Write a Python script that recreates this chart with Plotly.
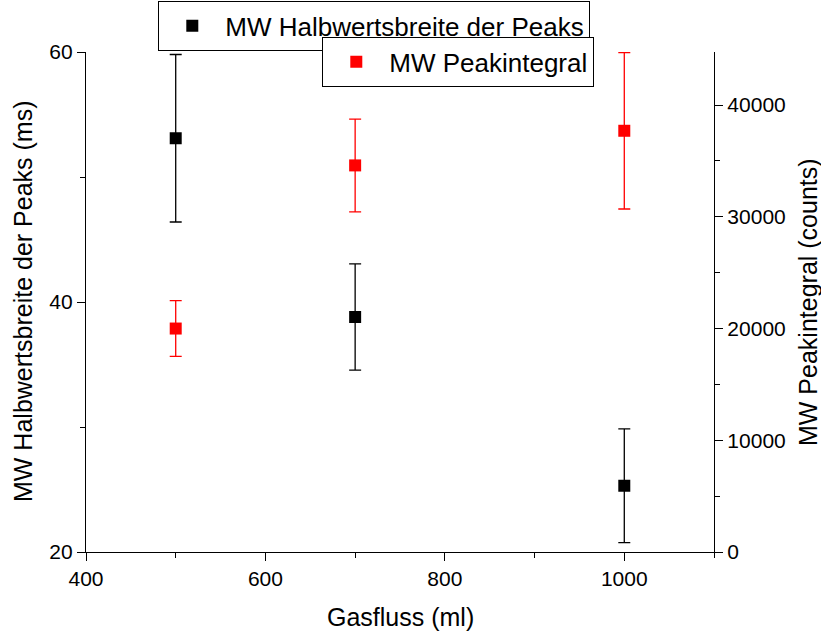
import plotly.graph_objects as go

gasfluss = [500, 700, 1000]
halbwertsbreite = [53.1, 38.8, 25.3]
halbwertsbreite_err = [6.7, 4.25, 4.55]
peakintegral = [20000, 34600, 37700]
peakintegral_err = [2500, 4150, 7000]

FONT = "Liberation Sans, Arial, sans-serif"

fig = go.Figure()
fig.add_trace(go.Scatter(
    x=gasfluss, y=halbwertsbreite, mode="markers",
    name="MW Halbwertsbreite der Peaks",
    marker=dict(symbol="square", size=12, color="black"),
    error_y=dict(type="data", array=halbwertsbreite_err, color="black", thickness=1.3, width=6),
    legend="legend", yaxis="y"))
fig.add_trace(go.Scatter(
    x=gasfluss, y=peakintegral, mode="markers",
    name="MW Peakintegral",
    marker=dict(symbol="square", size=12, color="#ff0000"),
    error_y=dict(type="data", array=peakintegral_err, color="#ff0000", thickness=1.3, width=6),
    legend="legend2", yaxis="y2"))

minor_common = dict(ticks="outside", ticklen=5, tickcolor="black", tickwidth=1.3)
axis_common = dict(showline=True, linecolor="black", linewidth=1.3, ticks="outside",
                   ticklen=8, tickwidth=1.3, tickcolor="black", showgrid=False, zeroline=False,
                   automargin=False, tickformat="d",
                   tickfont=dict(family=FONT, size=21, color="black"))

title_font = dict(family=FONT, size=25, color="black")

L, R, T, B = 86, 107, 52, 80
W, H = 821, 632
PW, PH = W - L - R, H - T - B

def px_x(p):
    return (p - L) / PW

def px_y(p):
    return (H - B - p) / PH

fig.update_layout(
    width=W, height=H,
    margin=dict(l=L, r=R, t=T, b=B, autoexpand=False),
    paper_bgcolor="white", plot_bgcolor="white",
    font=dict(family=FONT, color="black"),
    showlegend=True,
    xaxis=dict(range=[400, 1100], tickvals=[400, 600, 800, 1000],
               minor=dict(tickvals=[500, 700, 900, 1100], **minor_common),
               **axis_common),
    yaxis=dict(range=[20, 60], tickvals=[20, 40, 60],
               minor=dict(tickvals=[30, 50], **minor_common),
               **axis_common),
    yaxis2=dict(range=[0, 44750], overlaying="y", side="right",
                tickvals=[0, 10000, 20000, 30000, 40000],
                minor=dict(tickvals=[5000, 15000, 25000, 35000], **minor_common),
                **axis_common),
    legend=dict(x=px_x(158), y=px_y(1), xanchor="left", yanchor="top",
                bordercolor="black", borderwidth=1.3, bgcolor="white",
                font=dict(size=26, family=FONT), itemsizing="constant", itemwidth=56),
    legend2=dict(x=px_x(322), y=px_y(37), xanchor="left", yanchor="top",
                 bordercolor="black", borderwidth=1.3, bgcolor="white",
                 font=dict(size=26, family=FONT), itemsizing="constant", itemwidth=56),
    annotations=[
        dict(text="Gasfluss (ml)", xref="paper", yref="paper", x=0.5, y=0,
             yshift=-65, showarrow=False, font=title_font, xanchor="center", yanchor="middle"),
        dict(text="MW Halbwertsbreite der Peaks (ms)", xref="paper", yref="paper", x=0, y=0.5,
             xshift=-63, showarrow=False, font=title_font, textangle=-90,
             xanchor="center", yanchor="middle"),
        dict(text="MW Peakintegral (counts)", xref="paper", yref="paper", x=1, y=0.5,
             xshift=94, showarrow=False, font=title_font, textangle=-90,
             xanchor="center", yanchor="middle"),
    ],
)

fig.write_html("out.html", config={"displayModeBar": False},
               post_script="document.body.style.margin='0px';document.body.style.overflow='hidden';")
